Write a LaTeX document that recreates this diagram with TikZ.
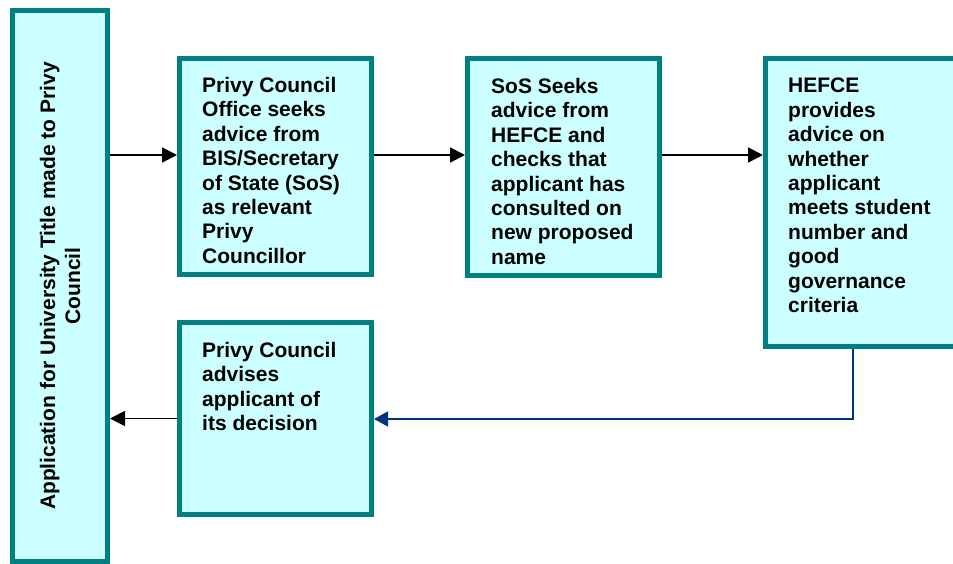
\documentclass[tikz,border=0pt]{standalone}
\usepackage{fontspec}
\setmainfont{Liberation Sans}
\usetikzlibrary{arrows.meta}
\definecolor{boxfill}{HTML}{CCFFFF}
\definecolor{boxline}{HTML}{008080}
\definecolor{navy}{RGB}{0,51,128}
\begin{document}
\begin{tikzpicture}[x=1pt,y=-1pt,
  stagebox/.style={draw=boxline, fill=boxfill, line width=5pt, inner sep=0pt, rectangle},
  stagetext/.style={anchor=north west, inner sep=0pt, align=left, font=\fontsize{21}{24.4}\selectfont\bfseries},
  flowarrow/.style={line width=1.8pt, black, -{Triangle[length=15pt,width=15pt]}},
  backarrow/.style={line width=1.5pt, navy, -{Triangle[length=14pt,width=15pt]}}]
\useasboundingbox (0,0) rectangle (953,563);
% boxes
\node[stagebox, minimum width=95pt, minimum height=551pt] (b1) at (60,286) {};
\node[stagebox, minimum width=192pt, minimum height=216pt] (b2) at (275.5,166.5) {};
\node[stagebox, minimum width=192pt, minimum height=217pt] (b3) at (563.5,167) {};
\node[stagebox, minimum width=195pt, minimum height=288pt] (b4) at (863,202.5) {};
\node[stagebox, minimum width=192pt, minimum height=192pt] (b5) at (275.5,418.5) {};
% texts
\node[rotate=90, inner sep=0pt, align=center, font=\fontsize{21}{25}\selectfont\bfseries] (t1) at (b1.center) {Application for University Title made to Privy\\Council};
\node[stagetext] (t2) at (202,77) {Privy Council\\Office seeks\\advice from\\BIS/Secretary\\of State (SoS)\\as relevant\\Privy\\Councillor};
\node[stagetext] (t3) at (491,78) {SoS Seeks\\advice from\\HEFCE and\\checks that\\applicant has\\consulted on\\new proposed\\name};
\node[stagetext] (t4) at (788,78) {HEFCE\\provides\\advice on\\whether\\applicant\\meets student\\number and\\good\\governance\\criteria};
\node[stagetext] (t5) at (202,342) {Privy Council\\advises\\applicant of\\its decision};
% connectors
\coordinate (r1) at (0,155);
\coordinate (turn) at (853,419);
\draw[flowarrow] (b1.east |- r1) -- (b2.west |- r1);
\draw[flowarrow] (b2.east |- r1) -- (b3.west |- r1);
\draw[flowarrow] (b3.east |- r1) -- (b4.west |- r1);
\draw[backarrow] (b4.south -| turn) -- (turn) -- (b5.east |- turn);
\draw[flowarrow] (b5.west) -- (b1.east |- b5.west);
\end{tikzpicture}
\end{document}
